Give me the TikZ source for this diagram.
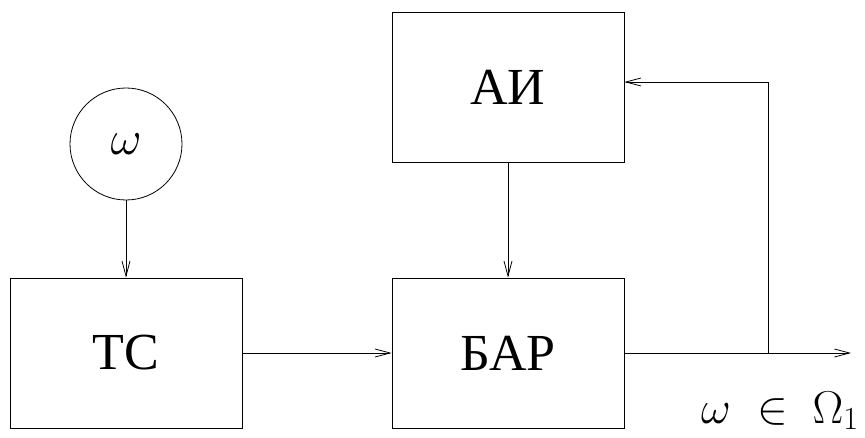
\RequirePackage{fix-cm}
\documentclass[tikz,border=0pt]{standalone}
\usepackage{fontspec}
\setmainfont{Liberation Serif}
\newfontfamily\blockfont{Liberation Serif}
\usepackage{tikz}
\usetikzlibrary{positioning, arrows.meta}
\tikzstyle{block}     = [rectangle, minimum width=232pt, minimum height=150pt, text centered, draw=black, line width=0.8pt, font=\blockfont\fontsize{52}{60}\selectfont]
\tikzstyle{source}    = [circle, minimum size=112pt, inner sep=0pt, draw=black, line width=0.8pt, font=\fontsize{48}{56}\selectfont]
\tikzstyle{arrow}     = [line width=0.8pt,->,>={Straight Barb[length=15pt,width=8pt]}]

\begin{document}
\begin{tikzpicture}[x=1pt, y=1pt, node distance=382pt]
      \useasboundingbox (0,0) rectangle (865,437);

      \node (tc)  [block] at (126,84)             {ТС};
      \node (bar) [block, right of=tc]            {БАР};
      \node (ai)  [block, above of=bar, yshift=-116pt] {АИ};
      \node (om)  [source, above of=tc, yshift=-173pt] {$\omega$};

      \coordinate (split) at (768,84);
      \coordinate (out)   at (851,84);
      \node (res) [anchor=base west, inner sep=0pt, font=\fontsize{46}{54}\selectfont] at (701,14)
            {$\omega\hspace{27pt}\mathord{\in}\hspace{24pt}\Omega_{1}$};

      \draw [arrow] (om) -- (tc);
      \draw [arrow] (tc) -- (bar);
      \draw [arrow] (ai) -- (bar);
      \draw [arrow] (bar) -- (out);

      \draw [arrow] (split) |- ([yshift=5pt]ai.east);

\end{tikzpicture}
\end{document}
